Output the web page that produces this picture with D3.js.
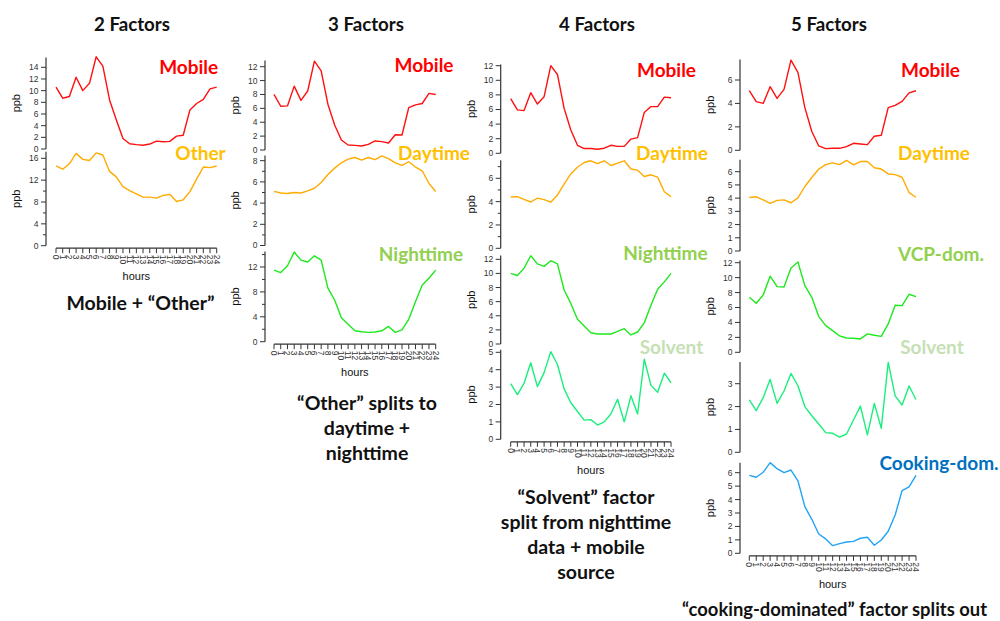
<!DOCTYPE html>
<html>
<head>
<meta charset="utf-8">
<script src="https://cdn.jsdelivr.net/npm/d3@7"></script>
<style>
  html, body { margin: 0; padding: 0; background: #fff; }
  svg { display: block; }
  .tick-lbl { font-family: "Liberation Sans", Arial, sans-serif; font-size: 8.5px; fill: #333; }
  .axis-title { font-family: "Liberation Sans", Arial, sans-serif; font-size: 11px; fill: #111; }
  .big { font-family: Lato, "Open Sans", sans-serif; font-weight: 700; }
</style>
</head>
<body>
<svg id="chart" width="1000" height="621"></svg>
<script>
// Diurnal factor profiles (ppb) for hours 0..24
const hourTicks = [0,1,2,3,4,5,6,7,8,9,10,11,12,13,14,15,16,17,18,19,20,21,22,23,24];

// 2-factor solution
const f2Mobile = [10.6, 8.7, 9.0, 12.3, 10.0, 11.25, 15.8, 14.2, 8.4, 5.0, 1.8, 0.9, 0.75, 0.65, 0.85, 1.35, 1.25, 1.3, 2.2, 2.35, 6.7, 7.8, 8.5, 10.3, 10.6];
const f2Other  = [14.6, 14.0, 15.0, 16.9, 15.8, 15.6, 17.0, 16.6, 13.6, 12.6, 10.8, 10.1, 9.5, 8.9, 8.9, 8.7, 9.2, 9.4, 8.1, 8.4, 9.9, 12.2, 14.4, 14.3, 14.6];

// 3-factor solution
const f3Mobile    = [8.0, 6.3, 6.35, 9.2, 7.15, 8.5, 12.8, 11.4, 6.6, 3.6, 1.45, 0.72, 0.67, 0.58, 0.82, 1.3, 1.2, 1.0, 2.2, 2.16, 6.1, 6.5, 6.7, 8.15, 8.0];
const f3Daytime   = [5.1, 4.95, 4.9, 5.0, 4.95, 5.15, 5.4, 5.95, 6.7, 7.3, 7.8, 8.15, 8.3, 8.05, 8.3, 8.1, 8.45, 8.2, 7.8, 7.55, 7.9, 7.4, 7.05, 5.85, 5.1];
const f3Nighttime = [11.5, 11.1, 12.2, 14.4, 13.1, 12.8, 13.8, 13.1, 8.6, 6.7, 3.85, 2.8, 1.75, 1.6, 1.5, 1.55, 1.75, 2.45, 1.5, 1.9, 3.6, 6.4, 9.1, 10.2, 11.5];

// 4-factor solution
const f4Mobile    = [7.5, 5.95, 5.85, 8.3, 6.75, 7.75, 12.0, 10.8, 6.15, 3.2, 1.1, 0.65, 0.65, 0.55, 0.7, 1.1, 0.95, 0.95, 1.95, 2.15, 5.6, 6.4, 6.4, 7.7, 7.6];
const f4Daytime   = [4.4, 4.43, 4.2, 3.97, 4.3, 4.17, 3.95, 4.57, 5.5, 6.37, 6.95, 7.35, 7.5, 7.25, 7.5, 7.1, 7.3, 7.5, 6.8, 6.7, 6.15, 6.3, 6.1, 4.85, 4.43];
const f4Nighttime = [10.0, 9.7, 10.75, 12.5, 11.35, 11.0, 11.8, 11.35, 7.65, 5.75, 3.5, 2.55, 1.6, 1.42, 1.42, 1.42, 1.8, 2.17, 1.28, 1.7, 3.0, 5.5, 7.75, 8.8, 10.0];
const f4Solvent   = [3.2, 2.57, 3.22, 4.4, 3.03, 3.83, 5.04, 4.3, 2.9, 2.1, 1.6, 1.1, 1.13, 0.82, 1.0, 1.45, 2.3, 1.0, 2.5, 1.45, 4.6, 3.1, 2.7, 3.8, 3.25];

// 5-factor solution
const f5Mobile  = [5.1, 4.15, 4.0, 5.43, 4.43, 5.2, 7.7, 6.65, 3.64, 1.6, 0.37, 0.14, 0.17, 0.17, 0.31, 0.6, 0.54, 0.48, 1.2, 1.28, 3.64, 3.84, 4.18, 4.9, 5.08];
const f5Daytime = [4.05, 4.1, 3.87, 3.6, 3.83, 3.87, 3.65, 4.02, 4.88, 5.56, 6.2, 6.54, 6.67, 6.54, 6.85, 6.52, 6.77, 6.77, 6.3, 6.2, 5.83, 5.78, 5.58, 4.42, 4.07];
const f5VCP     = [7.37, 6.56, 7.67, 10.2, 8.8, 8.75, 11.3, 12.1, 8.93, 7.37, 4.78, 3.57, 2.9, 2.19, 1.92, 1.88, 1.79, 2.46, 2.28, 2.14, 3.8, 6.3, 6.25, 7.77, 7.46];
const f5Solvent = [2.29, 1.82, 2.39, 3.19, 2.14, 2.68, 3.45, 2.91, 2.0, 1.6, 1.24, 0.86, 0.83, 0.66, 0.8, 1.41, 2.02, 0.76, 2.14, 1.05, 3.93, 2.47, 2.07, 2.9, 2.31];
const f5Cooking = [5.8, 5.66, 6.03, 6.75, 6.3, 6.0, 6.2, 5.4, 3.47, 2.53, 1.44, 1.07, 0.57, 0.72, 0.84, 0.89, 1.12, 1.19, 0.6, 0.99, 1.64, 2.85, 4.67, 4.94, 5.8];

// Column headings, panel names and captions
const columnTitles = ["2 Factors", "3 Factors", "4 Factors", "5 Factors"];
const factorNames = {
  mobile: "Mobile", other: "Other", daytime: "Daytime", nighttime: "Nighttime",
  solvent: "Solvent", vcp: "VCP-dom.", cooking: "Cooking-dom."
};
const captions = [
  ["Mobile + \u201cOther\u201d"],
  ["\u201cOther\u201d splits to", "daytime +", "nighttime"],
  ["\u201cSolvent\u201d factor", "split from nighttime", "data + mobile", "source"],
  ["\u201ccooking-dominated\u201d factor splits out"]
];

// Styles per factor
const lineColor = {
  mobile: "#ff1010", other: "#ffab00", daytime: "#ffab00", nighttime: "#1ee81e",
  vcp: "#1ee81e", solvent: "#19f07c", cooking: "#22a3f7"
};
const nameColor = {
  mobile: "#ff0000", other: "#ffc000", daytime: "#ffc000", nighttime: "#92d050",
  vcp: "#92d050", solvent: "#c5e0b4", cooking: "#0070c0"
};

// Layout of each column: x pixel of hour 0 / 24, y-axis x, titles and panels
const columns = [
  { axisX: 46, xa: 56, xb: 216.7, titleX: 132, capX: 140.5, capY: 303, capSize: 19.5,
    panels: [
      { key: "mobile", data: f2Mobile, y0: 149, ref: [14, 67.3], top: 15.7, ticks: [0,2,4,6,8,10,12,14], minor: [], nameX: 188.7, nameY: 67 },
      { key: "other", data: f2Other, y0: 245.7, ref: [16, 158.3], top: 17.2, ticks: [0,4,8,12,16], minor: [2,6,10,14], nameX: 200.5, nameY: 153.3 }
    ] },
  { axisX: 265, xa: 274, xb: 435.7, titleX: 366, capX: 367, capY: 403, capSize: 19.5,
    panels: [
      { key: "mobile", data: f3Mobile, y0: 150, ref: [12, 66.7], top: 12.9, ticks: [0,2,4,6,8,10,12], minor: [], nameX: 424, nameY: 65.7 },
      { key: "daytime", data: f3Daytime, y0: 245.5, ref: [8, 160.7], top: 8.5, ticks: [0,2,4,6,8], minor: [1,3,5,7], nameX: 434, nameY: 153.3 },
      { key: "nighttime", data: f3Nighttime, y0: 341.7, ref: [12, 267], top: 14.5, ticks: [0,4,8,12], minor: [2,6,10,14], nameX: 421, nameY: 254 }
    ] },
  { axisX: 500.7, xa: 510.7, xb: 671, titleX: 597, capX: 586, capY: 497, capSize: 19.5,
    panels: [
      { key: "mobile", data: f4Mobile, y0: 153.3, ref: [12, 65.7], top: 12.15, ticks: [0,2,4,6,8,10,12], minor: [], nameX: 666.5, nameY: 70.7 },
      { key: "daytime", data: f4Daytime, y0: 248.3, ref: [6, 178.3], top: 7.55, ticks: [0,2,4,6], minor: [1,3,5,7], nameX: 672, nameY: 153.3 },
      { key: "nighttime", data: f4Nighttime, y0: 344, ref: [12, 259.3], top: 12.55, ticks: [0,2,4,6,8,10,12], minor: [], nameX: 665.5, nameY: 253.3 },
      { key: "solvent", data: f4Solvent, y0: 439.3, ref: [5, 352.3], top: 5.15, ticks: [0,1,2,3,4,5], minor: [], nameX: 671.5, nameY: 347.7 }
    ] },
  { axisX: 740, xa: 749.3, xb: 916, titleX: 829, capX: 682, capY: 610, capSize: 18.4, capAnchor: "start",
    panels: [
      { key: "mobile", data: f5Mobile, y0: 150.3, ref: [6, 80], top: 7.75, ticks: [0,2,4,6], minor: [], nameX: 930.5, nameY: 70.7 },
      { key: "daytime", data: f5Daytime, y0: 251, ref: [6, 171.7], top: 6.9, ticks: [0,1,2,3,4,5,6], minor: [], nameX: 934, nameY: 153.3 },
      { key: "vcp", data: f5VCP, y0: 352.3, ref: [12, 262.7], top: 12.3, ticks: [0,2,4,6,8,10,12], minor: [], nameX: 941, nameY: 254 },
      { key: "solvent", data: f5Solvent, y0: 452.3, ref: [3, 383.7], top: 3.95, ticks: [0,1,2,3], minor: [], nameX: 932, nameY: 347.7 },
      { key: "cooking", data: f5Cooking, y0: 553.3, ref: [6, 472.7], top: 6.75, ticks: [0,1,2,3,4,5,6], minor: [], nameX: 939, nameY: 463.3 }
    ] }
];

const svg = d3.select("#chart");
const axisColor = "#333";

columns.forEach((col, ci) => {
  const g = svg.append("g");
  const x = d3.scaleLinear().domain([0, 24]).range([col.xa, col.xb]);

  // column heading
  g.append("text").attr("class", "big")
    .attr("x", col.titleX).attr("y", 24).attr("dy", "0.35em")
    .attr("text-anchor", "middle").attr("font-size", 18.7).attr("fill", "#111")
    .text(columnTitles[ci]);

  col.panels.forEach(p => {
    const y = d3.scaleLinear().domain([0, p.ref[0]]).range([p.y0, p.ref[1]]);
    const pg = g.append("g");

    // y axis line
    pg.append("line")
      .attr("x1", col.axisX).attr("x2", col.axisX)
      .attr("y1", y(0)).attr("y2", y(p.top))
      .attr("stroke", axisColor).attr("stroke-width", 1.2);

    // major ticks + labels
    p.ticks.forEach(t => {
      pg.append("line")
        .attr("x1", col.axisX - 5).attr("x2", col.axisX)
        .attr("y1", y(t)).attr("y2", y(t))
        .attr("stroke", axisColor).attr("stroke-width", 1);
      pg.append("text").attr("class", "tick-lbl")
        .attr("x", col.axisX - 7.5).attr("y", y(t)).attr("dy", "0.35em")
        .attr("text-anchor", "end").text(t);
    });
    // minor ticks
    p.minor.forEach(t => {
      pg.append("line")
        .attr("x1", col.axisX - 3).attr("x2", col.axisX)
        .attr("y1", y(t)).attr("y2", y(t))
        .attr("stroke", axisColor).attr("stroke-width", 1);
    });

    // ppb label
    const midY = (y(0) + y(p.top)) / 2;
    pg.append("text").attr("class", "axis-title")
      .attr("transform", `translate(${col.axisX - 30},${midY}) rotate(-90)`)
      .attr("text-anchor", "middle").attr("dy", "0.35em").text("ppb");

    // profile line
    const line = d3.line().x((d, i) => x(hourTicks[i])).y(d => y(d));
    pg.append("path").datum(p.data)
      .attr("d", line)
      .attr("fill", "none")
      .attr("stroke", lineColor[p.key])
      .attr("stroke-width", 1.4)
      .attr("stroke-linejoin", "round");

    // factor name
    pg.append("text").attr("class", "big")
      .attr("x", p.nameX).attr("y", p.nameY).attr("dy", "0.35em")
      .attr("text-anchor", "middle").attr("font-size", 19)
      .attr("fill", nameColor[p.key])
      .text(factorNames[p.key]);
  });

  // hours axis under the last panel
  const last = col.panels[col.panels.length - 1];
  const axY = last.y0 + 2.5;
  g.append("line")
    .attr("x1", x(0)).attr("x2", x(24)).attr("y1", axY).attr("y2", axY)
    .attr("stroke", axisColor).attr("stroke-width", 1.2);
  hourTicks.forEach(h => {
    g.append("line")
      .attr("x1", x(h)).attr("x2", x(h)).attr("y1", axY).attr("y2", axY + 5)
      .attr("stroke", axisColor).attr("stroke-width", 1);
    g.append("text").attr("class", "tick-lbl")
      .attr("transform", `translate(${x(h)},${axY + 6.5}) rotate(90)`)
      .attr("dy", "0.35em").attr("text-anchor", "start").attr("font-size", 8)
      .text(h);
  });
  g.append("text").attr("class", "axis-title")
    .attr("x", (x(0) + x(24)) / 2).attr("y", axY + 28).attr("dy", "0.35em")
    .attr("text-anchor", "middle").text("hours");

  // caption under the column
  captions[ci].forEach((s, li) => {
    g.append("text").attr("class", "big")
      .attr("x", col.capX).attr("y", col.capY + li * 25).attr("dy", "0.35em")
      .attr("text-anchor", col.capAnchor || "middle")
      .attr("font-size", col.capSize).attr("fill", "#111")
      .text(s);
  });
});
</script>
</body>
</html>
